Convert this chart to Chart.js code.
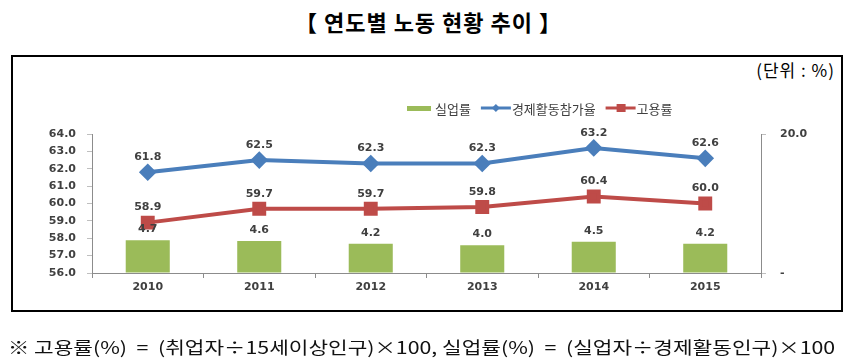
<!DOCTYPE html>
<html>
<head>
<meta charset="utf-8">
<script src="https://cdn.jsdelivr.net/npm/chart.js@4"></script>
<style>
    body { margin: 0; width: 857px; height: 364px; background: #fff; position: relative; overflow: hidden; }
    #title { position: absolute; left: 0; width: 857px; top: 5px; text-align: center; font: bold 22px "Noto Sans CJK KR"; letter-spacing: 1px; color: #000; white-space: pre; }
    #box { position: absolute; left: 11px; top: 55px; width: 832px; height: 257px; border: 2px solid #000; box-sizing: border-box; }
    #unit { position: absolute; right: 22px; top: 57px; font: 17px "Noto Sans CJK KR"; letter-spacing: 1px; color: #000; white-space: pre; }
    #note { position: absolute; left: 8px; top: 334px; font: 17px "Noto Sans CJK KR"; color: #111; white-space: pre; transform-origin: left top; }
    #chart { position: absolute; left: 0; top: 0; }
</style>
</head>
<body>
<div id="title">【 연도별 노동 현황 추이 】</div>
<div id="box"></div>
<div id="unit">(단위 : %)</div>
<canvas id="chart" width="857" height="364"></canvas>
<div id="note">※ 고용률(%)  =  (취업자÷15세이상인구)×100, 실업률(%)  =  (실업자÷경제활동인구)×100</div>
<script>
// chart data
const years = ['2010', '2011', '2012', '2013', '2014', '2015'];
const unemployment = [4.7, 4.6, 4.2, 4.0, 4.5, 4.2];        // 실업률
const participation = [61.8, 62.5, 62.3, 62.3, 63.2, 62.6]; // 경제활동참가율
const employment = [58.9, 59.7, 59.7, 59.8, 60.4, 60.0];    // 고용률

const green = '#9BBB59';
const blue = '#4A7EBB';
const red = '#BE4B48';
const labelFont = 'bold 11px "DejaVu Sans"';

// fit footnote to the box width
const note = document.getElementById('note');
note.style.transform = 'scaleX(' + (827 / note.scrollWidth) + ')';

// value labels above each point / bar
const valueLabels = {
    id: 'valueLabels',
    afterDatasetsDraw(chart) {
        const ctx = chart.ctx;
        ctx.save();
        ctx.font = labelFont;
        ctx.fillStyle = '#404040';
        ctx.textAlign = 'center';
        ctx.textBaseline = 'middle';
        chart.data.datasets.forEach((ds, i) => {
            const meta = chart.getDatasetMeta(i);
            const off = ds.type === 'bar' ? 11 : 15;
            meta.data.forEach((el, j) => {
                ctx.fillText(ds.data[j].toFixed(1), el.x, el.y - off);
            });
        });
        ctx.restore();
    }
};

// legend drawn like the office chart legend
const legendRow = {
    id: 'legendRow',
    afterDraw(chart) {
        const ctx = chart.ctx;
        ctx.save();
        ctx.font = '13px "Noto Sans CJK KR"';
        ctx.textBaseline = 'middle';
        const y = 108;
        const items = [
            { text: '실업률', kind: 'bar', color: green },
            { text: '경제활동참가율', kind: 'diamond', color: blue },
            { text: '고용률', kind: 'square', color: red }
        ];
        let x = 407;
        items.forEach(item => {
            if (item.kind === 'bar') {
                ctx.fillStyle = item.color;
                ctx.fillRect(x, y - 2, 24, 5);
                x += 28;
            } else {
                ctx.strokeStyle = item.color;
                ctx.lineWidth = 3;
                ctx.beginPath();
                ctx.moveTo(x, y);
                ctx.lineTo(x + 30, y);
                ctx.stroke();
                ctx.fillStyle = item.color;
                ctx.beginPath();
                if (item.kind === 'diamond') {
                    ctx.moveTo(x + 15, y - 4);
                    ctx.lineTo(x + 19, y);
                    ctx.lineTo(x + 15, y + 4);
                    ctx.lineTo(x + 11, y);
                } else {
                    ctx.rect(x + 11, y - 4, 9, 8);
                }
                ctx.fill();
                x += 31;
            }
            ctx.fillStyle = '#404040';
            ctx.fillText(item.text, x, y + 1);
            x += ctx.measureText(item.text).width + 10;
        });
        ctx.restore();
    }
};

const tickFont = { family: 'DejaVu Sans', size: 11, weight: 'bold' };

new Chart(document.getElementById('chart'), {
    type: 'bar',
    data: {
        labels: years,
        datasets: [
            {
                type: 'line',
                label: '경제활동참가율',
                data: participation,
                yAxisID: 'y',
                borderColor: blue,
                backgroundColor: blue,
                borderWidth: 4,
                pointStyle: 'rectRot',
                pointRadius: 6,
                pointHoverRadius: 6,
                order: 1
            },
            {
                type: 'line',
                label: '고용률',
                data: employment,
                yAxisID: 'y',
                borderColor: red,
                backgroundColor: red,
                borderWidth: 4,
                pointStyle: 'rect',
                pointRadius: 7,
                pointHoverRadius: 7,
                order: 2
            },
            {
                type: 'bar',
                label: '실업률',
                data: unemployment,
                yAxisID: 'y1',
                backgroundColor: green,
                categoryPercentage: 1,
                barPercentage: 0.395,
                order: 3
            }
        ]
    },
    options: {
        responsive: false,
        animation: false,
        layout: { padding: { left: 42, right: 36, top: 134, bottom: 61 } },
        plugins: {
            legend: { display: false },
            tooltip: { enabled: false }
        },
        scales: {
            x: {
                grid: { drawOnChartArea: false, tickLength: 5, color: '#8c8c8c' },
                border: { color: '#8c8c8c' },
                ticks: { font: tickFont, color: '#404040', padding: 3 },
                afterFit(scale) { scale.height = 30; }
            },
            y: {
                position: 'left',
                min: 56,
                max: 64,
                ticks: { stepSize: 1, font: tickFont, color: '#404040', padding: 11, callback: v => v.toFixed(1) },
                grid: { drawOnChartArea: false, tickLength: 5, color: '#bfbfbf' },
                border: { color: '#8c8c8c' },
                afterFit(scale) { scale.width = 50; }
            },
            y1: {
                position: 'right',
                min: 0,
                max: 20,
                ticks: { stepSize: 20, font: tickFont, color: '#404040', padding: 14, callback: v => v === 0 ? '-' : v.toFixed(1) },
                grid: { drawOnChartArea: false, tickLength: 5, color: '#bfbfbf' },
                border: { color: '#8c8c8c' },
                afterFit(scale) { scale.width = 60; }
            }
        }
    },
    plugins: [valueLabels, legendRow]
});
</script>
</body>
</html>
